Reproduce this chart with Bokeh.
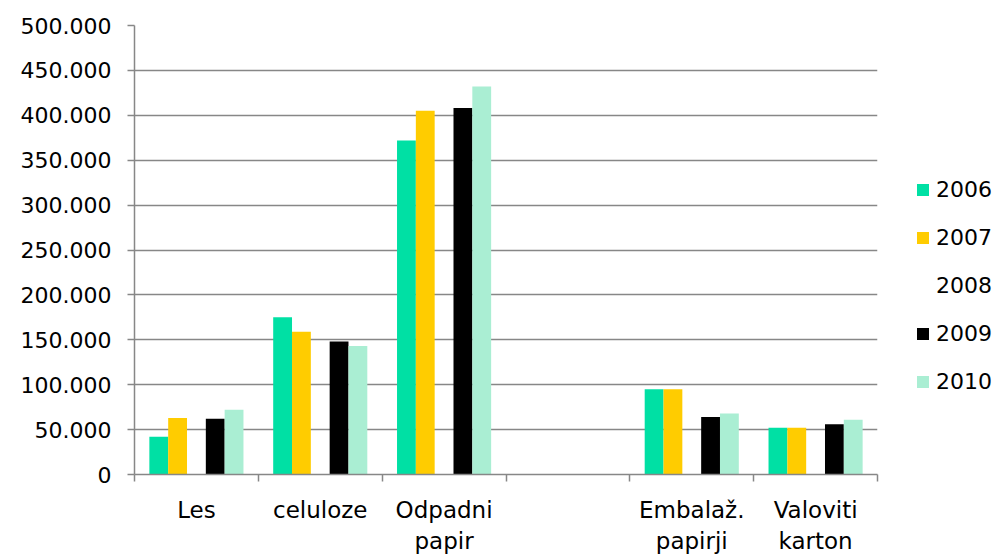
from bokeh.plotting import figure
from bokeh.models import Range1d, FixedTicker, Legend, LegendItem, ColumnDataSource
from bokeh.embed import file_html
from bokeh.resources import INLINE

categories = ["Les", "celuloze", "Odpadni\npapir", "", "Embalaž.\npapirji", "Valoviti\nkarton"]
years = ["2006", "2007", "2008", "2009", "2010"]
v2006 = [42000, 175000, 372000, 0, 95000, 52000]
v2007 = [63000, 159000, 405000, 0, 95000, 52000]
v2008 = [0, 0, 0, 0, 0, 0]
v2009 = [62000, 148000, 408000, 0, 64000, 56000]
v2010 = [72000, 143000, 432000, 0, 68000, 61000]
series = [v2006, v2007, v2008, v2009, v2010]
colors = ["#00E0A4", "#FFCC00", "#FFFFFF", "#000000", "#AAEED3"]
y_ticks = [0, 50000, 100000, 150000, 200000, 250000, 300000, 350000, 400000, 450000, 500000]

FONT = "DejaVu Sans"
GRID = "#878787"

p = figure(frame_width=743, frame_height=449,
           min_border_left=134, min_border_right=10, min_border_top=25, min_border_bottom=72,
           x_range=Range1d(0, len(categories)), y_range=Range1d(0, 500000),
           output_backend="svg", toolbar_location=None)
p.outline_line_color = None
p.background_fill_color = "white"
p.border_fill_color = "white"

bw = 0.152
n = len(years)
items = []
for j, (yr, vals, col) in enumerate(zip(years, series, colors)):
    xs = [i + 0.5 + (j - (n - 1) / 2) * bw for i in range(len(categories))]
    src = ColumnDataSource(dict(x=xs, top=vals))
    r = p.vbar(x="x", top="top", width=bw, source=src, fill_color=col, line_color=None)
    items.append(LegendItem(label=yr, renderers=[r]))

# y axis
p.yaxis.ticker = FixedTicker(ticks=y_ticks)
p.yaxis.major_label_overrides = {t: ("{:,}".format(t).replace(",", ".")) for t in y_ticks}
p.yaxis.axis_line_color = GRID
p.yaxis.axis_line_width = 1.5
p.yaxis.major_tick_line_color = GRID
p.yaxis.major_tick_line_width = 1.5
p.yaxis.major_tick_in = 0
p.yaxis.major_tick_out = 7
p.yaxis.minor_tick_line_color = None
p.yaxis.major_label_text_font = FONT
p.yaxis.major_label_text_font_size = "22px"
p.yaxis.major_label_text_color = "black"
p.yaxis.major_label_standoff = 16

# x axis
p.xaxis.ticker = FixedTicker(ticks=[i + 0.5 for i in range(len(categories))],
                             minor_ticks=list(range(len(categories) + 1)))
p.xaxis.major_label_overrides = {i + 0.5: c for i, c in enumerate(categories)}
p.xaxis.axis_line_color = GRID
p.xaxis.axis_line_width = 1.5
p.xaxis.major_tick_line_color = None
p.xaxis.major_tick_in = 0
p.xaxis.major_tick_out = 0
p.xaxis.minor_tick_line_color = GRID
p.xaxis.minor_tick_line_width = 1.5
p.xaxis.minor_tick_in = 0
p.xaxis.minor_tick_out = 7
p.xaxis.major_label_text_font = FONT
p.xaxis.major_label_text_font_size = "23px"
p.xaxis.major_label_text_color = "black"
p.xaxis.major_label_standoff = 15

p.xgrid.grid_line_color = None
p.ygrid.ticker = FixedTicker(ticks=y_ticks)
p.ygrid.grid_line_color = GRID
p.ygrid.grid_line_width = 1.5

legend = Legend(items=items, location=(38, 80))
legend.border_line_color = None
legend.background_fill_alpha = 0
legend.padding = 0
legend.margin = 0
legend.label_text_font = FONT
legend.label_text_font_size = "22px"
legend.label_text_color = "black"
legend.glyph_width = 15
legend.glyph_height = 15
legend.label_height = 26
legend.spacing = 22
legend.label_standoff = 6
p.add_layout(legend, "right")

open("out.html", "w").write(file_html(p, INLINE))
